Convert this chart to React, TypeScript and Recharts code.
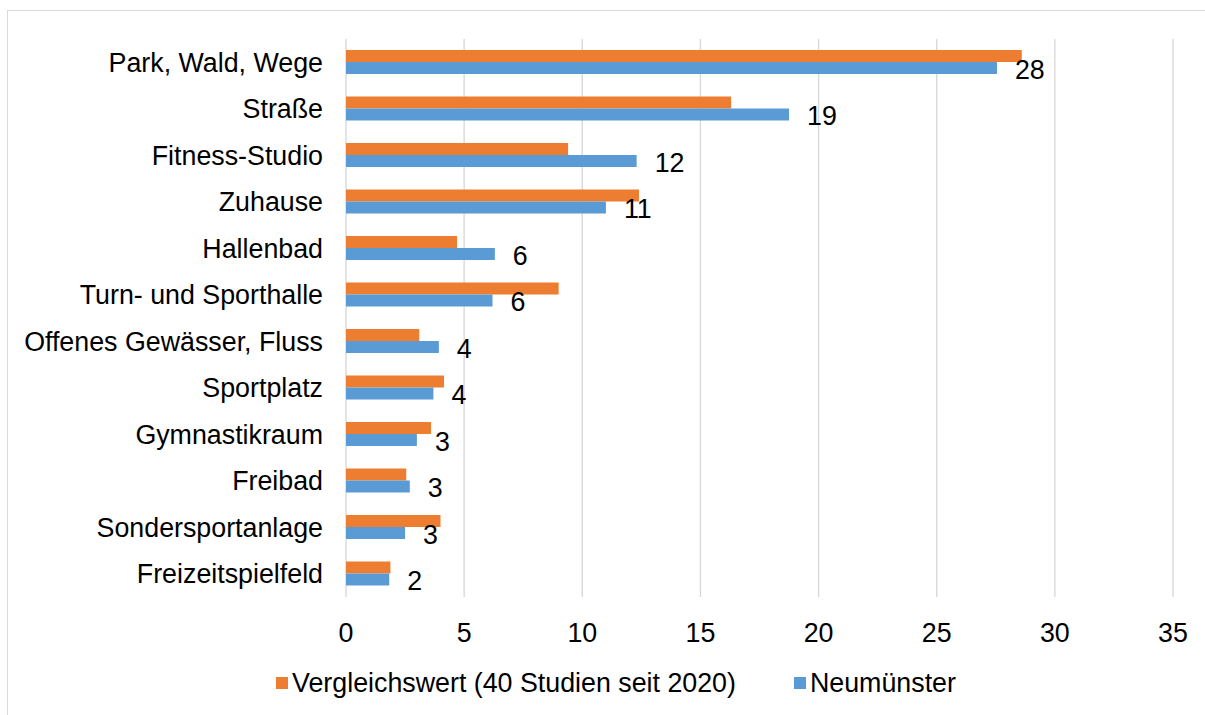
import { Bar, BarChart, CartesianGrid, LabelList, Legend, XAxis, YAxis } from 'recharts';

const categories = [
  'Park, Wald, Wege',
  'Straße',
  'Fitness-Studio',
  'Zuhause',
  'Hallenbad',
  'Turn- und Sporthalle',
  'Offenes Gewässer, Fluss',
  'Sportplatz',
  'Gymnastikraum',
  'Freibad',
  'Sondersportanlage',
  'Freizeitspielfeld',
];

const vergleichswert = [28.6, 16.3, 9.4, 12.4, 4.7, 9.0, 3.1, 4.15, 3.6, 2.55, 4.0, 1.88];
const neumuenster = [27.55, 18.75, 12.3, 11.0, 6.3, 6.2, 3.93, 3.7, 3.0, 2.7, 2.5, 1.83];

const xTicks = [0, 5, 10, 15, 20, 25, 30, 35];

const seriesNames = ['Vergleichswert (40 Studien seit 2020)', 'Neumünster'];
const ORANGE = '#ED7D31';
const BLUE = '#5B9BD5';
const FONT = '"Liberation Sans", Arial, sans-serif';
const FONT_SIZE = 26.8;

const chartData = categories.map((name, i) => ({
  name,
  vergleich: vergleichswert[i],
  neumuenster: neumuenster[i],
}));

function ChartLegend() {
  const items = [
    { label: seriesNames[0], color: ORANGE },
    { label: seriesNames[1], color: BLUE },
  ];
  return (
    <div style={{ display: 'flex', justifyContent: 'center', gap: 58, fontFamily: FONT, fontSize: FONT_SIZE, color: '#000' }}>
      {items.map((item) => (
        <div key={item.label} style={{ display: 'flex', alignItems: 'center', gap: 4 }}>
          <span style={{ width: 12, height: 12, background: item.color, display: 'inline-block' }} />
          <span style={{ lineHeight: '30px' }}>{item.label}</span>
        </div>
      ))}
    </div>
  );
}

export default function App() {
  return (
    <div
      style={{
        position: 'absolute',
        left: 7,
        top: 10,
        width: 1198,
        height: 705,
        boxSizing: 'border-box',
        borderTop: '1px solid #d9d9d9',
        borderLeft: '1px solid #d9d9d9',
        background: '#fff',
      }}
    >
      <BarChart
        width={1190}
        height={690}
        data={chartData}
        layout="vertical"
        margin={{ top: 28, right: 25, bottom: 64, left: 0 }}
        barGap={0}
        barSize={12}
        style={{ fontFamily: FONT }}
      >
        <CartesianGrid horizontal={false} stroke="#d9d9d9" strokeWidth={1.4} />
        <XAxis
          type="number"
          domain={[0, 35]}
          ticks={xTicks}
          axisLine={false}
          tickLine={false}
          tickSize={0}
          tickMargin={26}
          height={40}
          tick={{ fill: '#000', fontSize: FONT_SIZE }}
        />
        <YAxis
          type="category"
          dataKey="name"
          width={338}
          axisLine={false}
          tickLine={false}
          tickSize={0}
          tickMargin={23}
          interval={0}
          tick={{ fill: '#000', fontSize: FONT_SIZE }}
        />
        <Legend
          layout="horizontal"
          verticalAlign="middle"
          align="center"
          content={() => <ChartLegend />}
          wrapperStyle={{ top: 657, left: 13, width: 1190 }}
        />
        <Bar dataKey="vergleich" name={seriesNames[0]} fill={ORANGE} isAnimationActive={false} />
        <Bar dataKey="neumuenster" name={seriesNames[1]} fill={BLUE} isAnimationActive={false}>
          <LabelList
            dataKey="neumuenster"
            position="right"
            offset={18}
            dy={1}
            formatter={(v: number) => Math.round(v)}
            style={{ fill: '#000', fontSize: FONT_SIZE }}
          />
        </Bar>
      </BarChart>
    </div>
  );
}
